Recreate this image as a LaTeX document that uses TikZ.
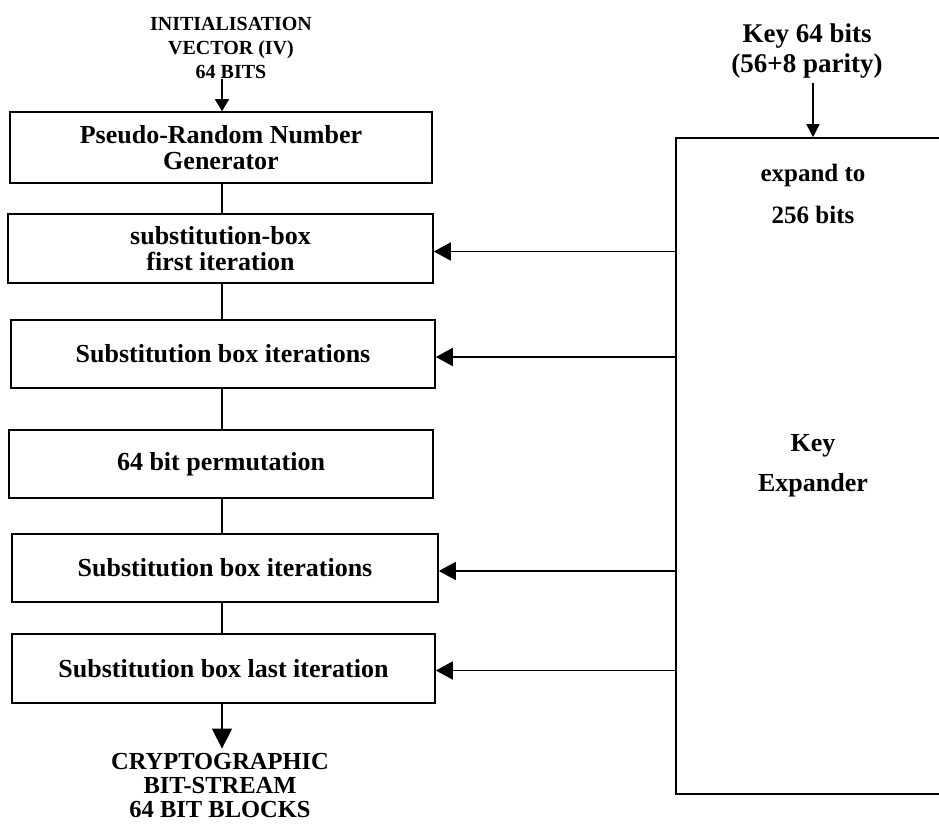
\documentclass[tikz,border=0pt]{standalone}
\usepackage{fontspec}
\setmainfont{Liberation Serif}
\usetikzlibrary{arrows.meta,calc}
\begin{document}
\begin{tikzpicture}[x=1bp,y=-1bp,
  blk/.style={draw, line width=1.6bp, inner sep=0pt, align=center,
    font=\fontsize{26bp}{26bp}\selectfont\bfseries},
  lbl/.style={inner sep=0pt, align=center},
  wire/.style={line width=1.6bp},
  feed/.style={line width=1.8bp, -{Triangle[length=17bp,width=18bp]}},
]
\useasboundingbox (0,0) rectangle (939,825);
\clip (0,0) rectangle (939,825);
\coordinate (spine) at (222,0);

% left chain
\node[blk, minimum width=422bp, minimum height=71bp] (prng) at (221,147.5) {Pseudo-Random Number\\Generator};
\node[blk, minimum width=425bp, minimum height=69bp] (sb1) at (220.5,248.5) {substitution-box\\first iteration};
\node[blk, minimum width=424bp, minimum height=68bp] (sb2) at (223,354) {Substitution box iterations};
\node[blk, minimum width=424bp, minimum height=68bp] (perm) at (221,464) {64 bit permutation};
\node[blk, minimum width=426bp, minimum height=68bp] (sb3) at (225,568) {Substitution box iterations};
\node[blk, minimum width=423bp, minimum height=69bp] (last) at (223.5,668.5) {Substitution box last iteration};

% key expander
\node[draw, line width=1.6bp, minimum width=274bp, minimum height=656bp, inner sep=0pt] (kx) at (813,466) {};
\node[lbl, font=\fontsize{25bp}{42bp}\selectfont\bfseries] (expand) at (813,194) {expand to\\256 bits};
\node[lbl, font=\fontsize{26bp}{40bp}\selectfont\bfseries] (kname) at (813,466) {Key\\Expander};

% labels
\node[lbl, font=\fontsize{20bp}{24bp}\selectfont\bfseries] (iv) at (231,48) {INITIALISATION\\VECTOR (IV)\\64 BITS};
\node[lbl, font=\fontsize{27bp}{30bp}\selectfont\bfseries] (key) at (807,51) {Key 64 bits\\(56+8 parity)};
\node[lbl, font=\fontsize{24.5bp}{24bp}\selectfont\bfseries] (out) at (220,785) {CRYPTOGRAPHIC\\BIT-STREAM\\64 BIT BLOCKS};

% chain connectors
\draw[wire, -{Triangle[length=12bp,width=14bp]}] (iv.south -| spine) -- (prng.north -| spine);
\draw[wire] (prng.south -| spine) -- (sb1.north -| spine);
\draw[wire] (sb1.south -| spine) -- (sb2.north -| spine);
\draw[wire] (sb2.south -| spine) -- (perm.north -| spine);
\draw[wire] (perm.south -| spine) -- (sb3.north -| spine);
\draw[wire] (sb3.south -| spine) -- (last.north -| spine);
\draw[wire, shorten >=4bp, -{Triangle[length=20bp,width=20bp]}] (last.south -| spine) -- (out.north -| spine);

% key input
\draw[wire, shorten <=5bp, -{Triangle[length=13bp,width=13bp]}] (key.south -| kx.north) -- (kx.north);

% key feeds
\draw[feed] ([yshift=-3bp]kx.west |- sb1.east) -- ([yshift=-3bp]sb1.east);
\draw[feed] ([yshift=-3bp]kx.west |- sb2.east) -- ([yshift=-3bp]sb2.east);
\draw[feed] ([yshift=-3bp]kx.west |- sb3.east) -- ([yshift=-3bp]sb3.east);
\draw[feed] ([yshift=-2bp]kx.west |- last.east) -- ([yshift=-2bp]last.east);
\end{tikzpicture}
\end{document}
